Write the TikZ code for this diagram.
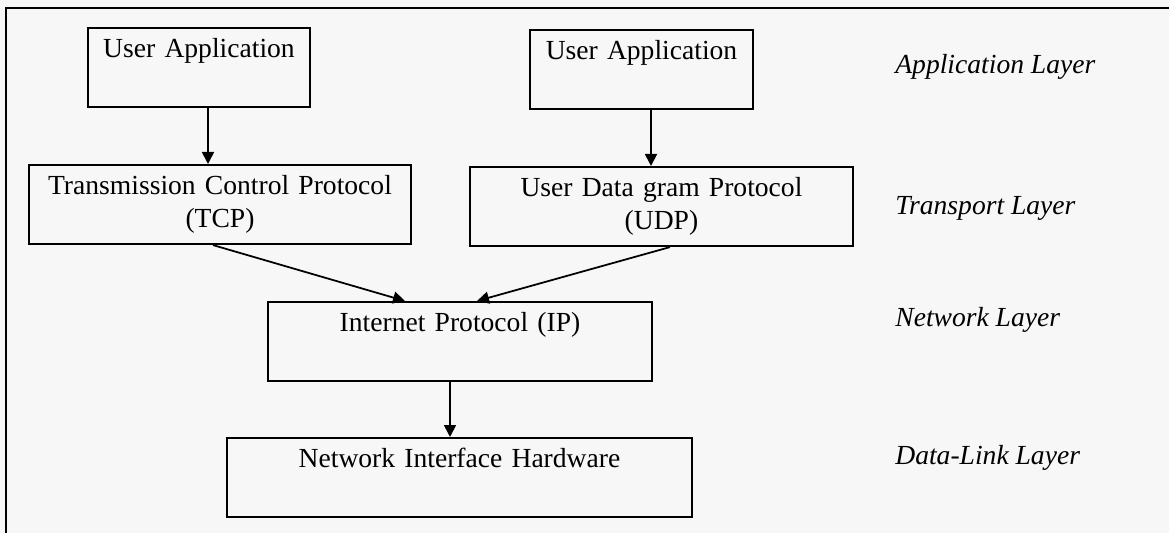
\documentclass[tikz,border=0pt]{standalone}
\usepackage{fontspec}
\setmainfont{Liberation Serif}
\usetikzlibrary{arrows.meta}

\begin{document}
\begin{tikzpicture}
[x=0.02cm,y=-0.02cm,
  lineDecorate/.style={-{Triangle[length=0.24cm,width=0.24cm]},line width=1pt},%
  nodeDecorate/.style={shape=rectangle,draw,line width=1.2pt,inner sep=0pt,
    anchor=north,align=center,text height=0.58cm,text depth=1.0cm},%
  layerDecorate/.style={anchor=base west,inner sep=0pt,font=\itshape}]
\fontsize{15.7}{18.8}\selectfont
%% frame
\fill[black!3] (0,0) rectangle (1169,533);
\useasboundingbox (0,0) rectangle (1169,533);
\draw[line width=1.3pt] (6,533) -- (6,8) -- (1169,8);
%% protocol boxes
\foreach \nodename/\x/\y/\w/\txt in {
  ua1/199/27/4.44/{User Application}, ua2/641.5/29/4.46/{User Application},
  tcp/220/164/7.64/{Transmission Control Protocol\\(TCP)},
  udp/661.5/166/7.66/{User Data gram Protocol\\(UDP)},
  ip/460/301/7.68/{Internet Protocol (IP)},
  nih/459.5/437/9.30/{Network Interface Hardware}}
{
  \node (\nodename) at (\x,\y) [nodeDecorate,text width=\w cm] {\txt};
}
%% layer names
\foreach \nodename/\y/\txt in {
  applayer/74/Application Layer, translayer/215/Transport Layer,
  netlayer/327/Network Layer, linklayer/464/Data-Link Layer}
{
  \node (\nodename) at (895,\y) [layerDecorate] {\txt};
}
%% arrows
\path
\foreach \startnode/\sx/\endnode/\ex in {ua1/0.18/tcp/-0.24, ua2/0.19/udp/-0.21,
  tcp/-0.14/ip/-1.1, udp/0.17/ip/0.34, ip/-0.2/nih/-0.19}
{
  ([xshift=\sx cm]\startnode.south) edge[lineDecorate] ([xshift=\ex cm]\endnode.north)
};
\end{tikzpicture}
\end{document}
